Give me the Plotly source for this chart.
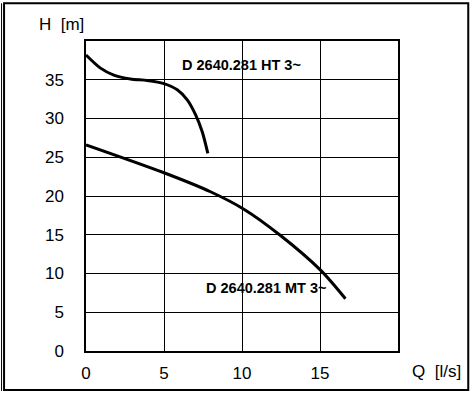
import plotly.graph_objects as go

# HT curve (Q [l/s], H [m])
ht_q = [0.0, 0.93, 1.78, 2.85, 3.92, 4.99, 5.85, 6.49, 7.02, 7.45, 7.81]
ht_h = [38.2, 36.5, 35.6, 35.1, 34.9, 34.5, 33.7, 32.4, 30.5, 28.3, 25.5]

# MT curve
mt_q = [0.0, 5.0, 7.98, 10.12, 12.47, 15.05, 16.63]
mt_h = [26.6, 23.0, 20.55, 18.3, 14.9, 10.4, 6.75]

x_ticks = [0, 5, 10, 15]
y_ticks = [0, 5, 10, 15, 20, 25, 30, 35]
ht_label = "D 2640.281 HT 3~"
mt_label = "D 2640.281 MT 3~"

FONT = "Liberation Sans, Arial, sans-serif"

fig = go.Figure()
fig.add_trace(go.Scatter(x=ht_q, y=ht_h, mode="lines",
                         line=dict(color="black", width=3, shape="spline", smoothing=0.8),
                         hoverinfo="skip", showlegend=False))
fig.add_trace(go.Scatter(x=mt_q, y=mt_h, mode="lines",
                         line=dict(color="black", width=3, shape="spline", smoothing=0.8),
                         hoverinfo="skip", showlegend=False))

axis_common = dict(showline=True, mirror=True, linecolor="black", linewidth=1.5,
                   showgrid=True, gridcolor="black", gridwidth=1.3,
                   zeroline=False, ticks="", fixedrange=True, automargin=False,
                   tickfont=dict(family=FONT, size=17, color="black"))

fig.update_xaxes(range=[0, 20], tickvals=x_ticks, ticktext=[str(v) for v in x_ticks],
                 ticklabelstandoff=6, **axis_common)
fig.update_yaxes(range=[0, 40], tickvals=y_ticks, ticktext=[str(v) for v in y_ticks],
                 ticklabelstandoff=17, **axis_common)

fig.add_annotation(x=9.95, y=36.9, text="<b>%s</b>" % ht_label, showarrow=False,
                   xanchor="center", yanchor="middle",
                   font=dict(family=FONT, size=14.5, color="black"))
fig.add_annotation(x=11.55, y=8.1, text="<b>%s</b>" % mt_label, showarrow=False,
                   xanchor="center", yanchor="middle",
                   font=dict(family=FONT, size=14.5, color="black"))

fig.add_annotation(xref="paper", yref="paper", x=-0.0785, y=1.054, text="H  [m]",
                   showarrow=False, xanchor="center", yanchor="middle",
                   font=dict(family=FONT, size=17, color="black"))
fig.add_annotation(xref="paper", yref="paper", x=1.124, y=-0.0667, text="Q  [l/s]",
                   showarrow=False, xanchor="center", yanchor="middle",
                   font=dict(family=FONT, size=17, color="black"))

# outer frame (paper coordinates)
W, L, T, B = 312.2, 85.5, 40.7, 351.0
H = B - T
def px(xp):
    return (xp - L) / W
def py(yp):
    return (B - yp) / H

fig.add_shape(type="rect", xref="paper", yref="paper",
              x0=px(3.5), x1=px(468), y0=py(390), y1=py(3),
              line=dict(color="black", width=2), layer="above")
fig.add_shape(type="line", xref="paper", yref="paper",
              x0=px(1), x1=px(1), y0=py(391), y1=py(3),
              line=dict(color="black", width=1), layer="above")

fig.update_layout(width=472, height=396,
                  margin=dict(l=85.5, r=472 - 397.7, t=40.7, b=45, autoexpand=False),
                  paper_bgcolor="white", plot_bgcolor="white",
                  showlegend=False)

fig.write_html("out.html", config={"displayModeBar": False},
               post_script="document.body.style.margin='0';document.body.style.overflow='hidden';")
